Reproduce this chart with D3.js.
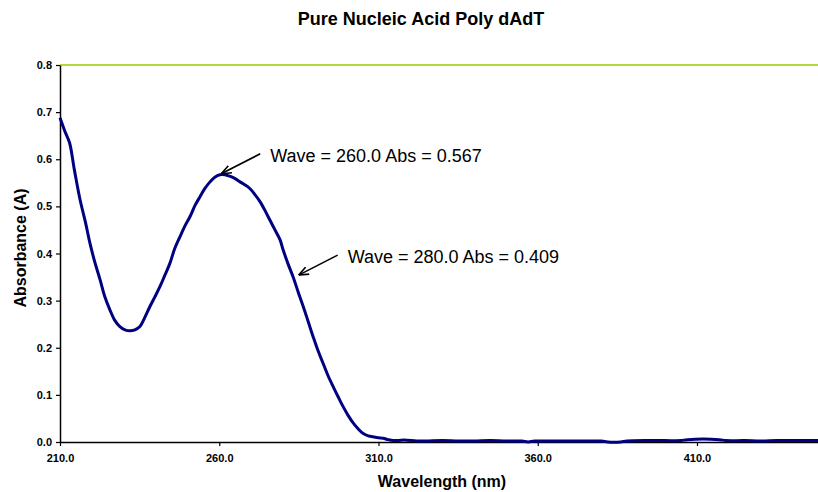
<!DOCTYPE html>
<html>
<head>
<meta charset="utf-8">
<script src="https://cdn.jsdelivr.net/npm/d3@7"></script>
<style>
  body { margin: 0; background: #fff; }
  text { font-family: "Liberation Sans", Arial, sans-serif; }
</style>
</head>
<body>
<div id="chart"></div>
<script>
// spectrum
const wavelength = [210, 211.5, 213, 214.5, 216.3, 218, 219.4, 221, 222.6, 224, 225.7, 227.2, 228.8, 230.4, 232,
  233.5, 235.1, 236.6, 238.2, 239.8, 241.4, 243, 244.5, 246, 247.7, 249.2, 250.8, 252.4, 254, 255.5, 257.1,
  258.6, 260.2, 261.8, 263.3, 265, 266.5, 268, 269.6, 271.2, 272.8, 274.3, 275.9, 277.5, 279.1, 280, 281.6,
  283.2, 284.8, 286.4, 288, 289.5, 291, 292.6, 294.2, 295.8, 297.4, 298.9, 300.5, 302.1, 303.6, 305.2, 306.8,
  308.3, 310, 311.5, 313, 314.6, 318, 322, 325, 330, 335, 340, 345, 350, 355, 357, 359, 365, 370, 375, 380,
  382, 386, 388, 395, 400, 405, 407, 417, 419, 425, 430, 435, 440, 448];
const absorbance = [0.688, 0.660, 0.635, 0.578, 0.514, 0.466, 0.422, 0.380, 0.344, 0.310, 0.280, 0.258, 0.245, 0.238, 0.236,
  0.238, 0.245, 0.264, 0.287, 0.308, 0.330, 0.355, 0.379, 0.410, 0.436, 0.458, 0.478, 0.502, 0.521, 0.538, 0.552,
  0.562, 0.567, 0.567, 0.564, 0.559, 0.552, 0.546, 0.538, 0.525, 0.510, 0.492, 0.471, 0.450, 0.429, 0.409, 0.378,
  0.350, 0.318, 0.287, 0.254, 0.223, 0.194, 0.167, 0.140, 0.117, 0.095, 0.075, 0.056, 0.040, 0.028, 0.018, 0.013,
  0.011, 0.009, 0.008, 0.005, 0.003, 0.004, 0.002, 0.002, 0.003, 0.002, 0.002, 0.003, 0.002, 0.002, 0.000, 0.002, 0.002, 0.002, 0.002, 0.002,
  0.000, 0.000, 0.002, 0.003, 0.003, 0.003, 0.005, 0.005, 0.003, 0.003, 0.002, 0.003, 0.003, 0.003];

const xTicks = [210, 260, 310, 360, 410];
const yTicks = [0, 0.1, 0.2, 0.3, 0.4, 0.5, 0.6, 0.7, 0.8];

// annotation labels and where their arrows point
const noteText = ["Wave = 260.0 Abs = 0.567", "Wave = 280.0 Abs = 0.409"];
const noteTip = [[260, 0.567], [284.3, 0.352]];

const svgWidth = 818;
const svgHeight = 492;
const margin = { top: 65, right: 0, bottom: 50, left: 60 };
const width = svgWidth - margin.left - margin.right;
const height = svgHeight - margin.top - margin.bottom;

const svg = d3.select("#chart")
  .append("svg")
  .attr("width", svgWidth)
  .attr("height", svgHeight);

svg.append("defs").append("marker")
  .attr("id", "arrow")
  .attr("viewBox", "0 0 10 10")
  .attr("refX", 10).attr("refY", 5)
  .attr("markerWidth", 10).attr("markerHeight", 10)
  .attr("markerUnits", "userSpaceOnUse")
  .attr("orient", "auto")
  .append("path")
  .attr("d", "M0,1 L10,5 L0,9")
  .attr("fill", "none")
  .attr("stroke", "#000")
  .attr("stroke-width", 1.6);

const chartGroup = svg.append("g")
  .attr("transform", `translate(${margin.left}, ${margin.top})`);

const xScale = d3.scaleLinear().domain([210, 448]).range([0, width]);
const yScale = d3.scaleLinear().domain([0, 0.8]).range([height, 0]);

// top border line in yellow-green
chartGroup.append("line")
  .attr("x1", 0).attr("x2", width)
  .attr("y1", yScale(0.8)).attr("y2", yScale(0.8))
  .attr("stroke", "#99cc00")
  .attr("stroke-width", 1.5);

const bottomAxis = d3.axisBottom(xScale)
  .tickValues(xTicks).tickFormat(d3.format(".1f"))
  .tickSizeInner(4).tickSizeOuter(0).tickPadding(8);
const leftAxis = d3.axisLeft(yScale)
  .tickValues(yTicks).tickFormat(d3.format(".1f"))
  .tickSizeInner(4).tickSizeOuter(0).tickPadding(4);

const xg = chartGroup.append("g")
  .attr("transform", `translate(0, ${height})`)
  .call(bottomAxis);
const yg = chartGroup.append("g").call(leftAxis);

[xg, yg].forEach(g => {
  g.select(".domain").attr("stroke", "#000").attr("stroke-width", 1.5);
  g.selectAll(".tick line").attr("stroke", "#000").attr("stroke-width", 1.2);
  g.selectAll(".tick text")
    .attr("font-family", "Liberation Sans, Arial, sans-serif")
    .attr("font-size", 11)
    .attr("font-weight", "bold")
    .attr("fill", "#000");
});

// the spectrum
const points = wavelength.map((w, i) => [w, absorbance[i]]);
const line = d3.line()
  .x(d => xScale(d[0]))
  .y(d => yScale(d[1]))
  .curve(d3.curveCatmullRom);

chartGroup.append("path")
  .datum(points)
  .attr("d", line)
  .attr("fill", "none")
  .attr("stroke", "#000080")
  .attr("stroke-width", 3)
  .attr("stroke-linejoin", "round");

// annotations
noteText.forEach((t, i) => {
  const tx = xScale(noteTip[i][0]);
  const ty = yScale(noteTip[i][1]);
  chartGroup.append("line")
    .attr("x1", tx + 41).attr("y1", ty - 21)
    .attr("x2", tx + 2).attr("y2", ty - 1)
    .attr("stroke", "#000")
    .attr("stroke-width", 1.6)
    .attr("marker-end", "url(#arrow)");
  chartGroup.append("text")
    .attr("x", tx + 51)
    .attr("y", ty - 13)
    .attr("font-size", 18)
    .attr("fill", "#000")
    .text(t);
});

// title and axis labels
svg.append("text")
  .attr("x", 421).attr("y", 25)
  .attr("text-anchor", "middle")
  .attr("font-size", 18)
  .attr("font-weight", "bold")
  .text("Pure Nucleic Acid Poly dAdT");

svg.append("text")
  .attr("x", 442).attr("y", 487)
  .attr("text-anchor", "middle")
  .attr("font-size", 16)
  .attr("font-weight", "bold")
  .text("Wavelength (nm)");

svg.append("text")
  .attr("transform", "translate(26, 248) rotate(-90)")
  .attr("text-anchor", "middle")
  .attr("font-size", 16)
  .attr("font-weight", "bold")
  .text("Absorbance (A)");
</script>
</body>
</html>
